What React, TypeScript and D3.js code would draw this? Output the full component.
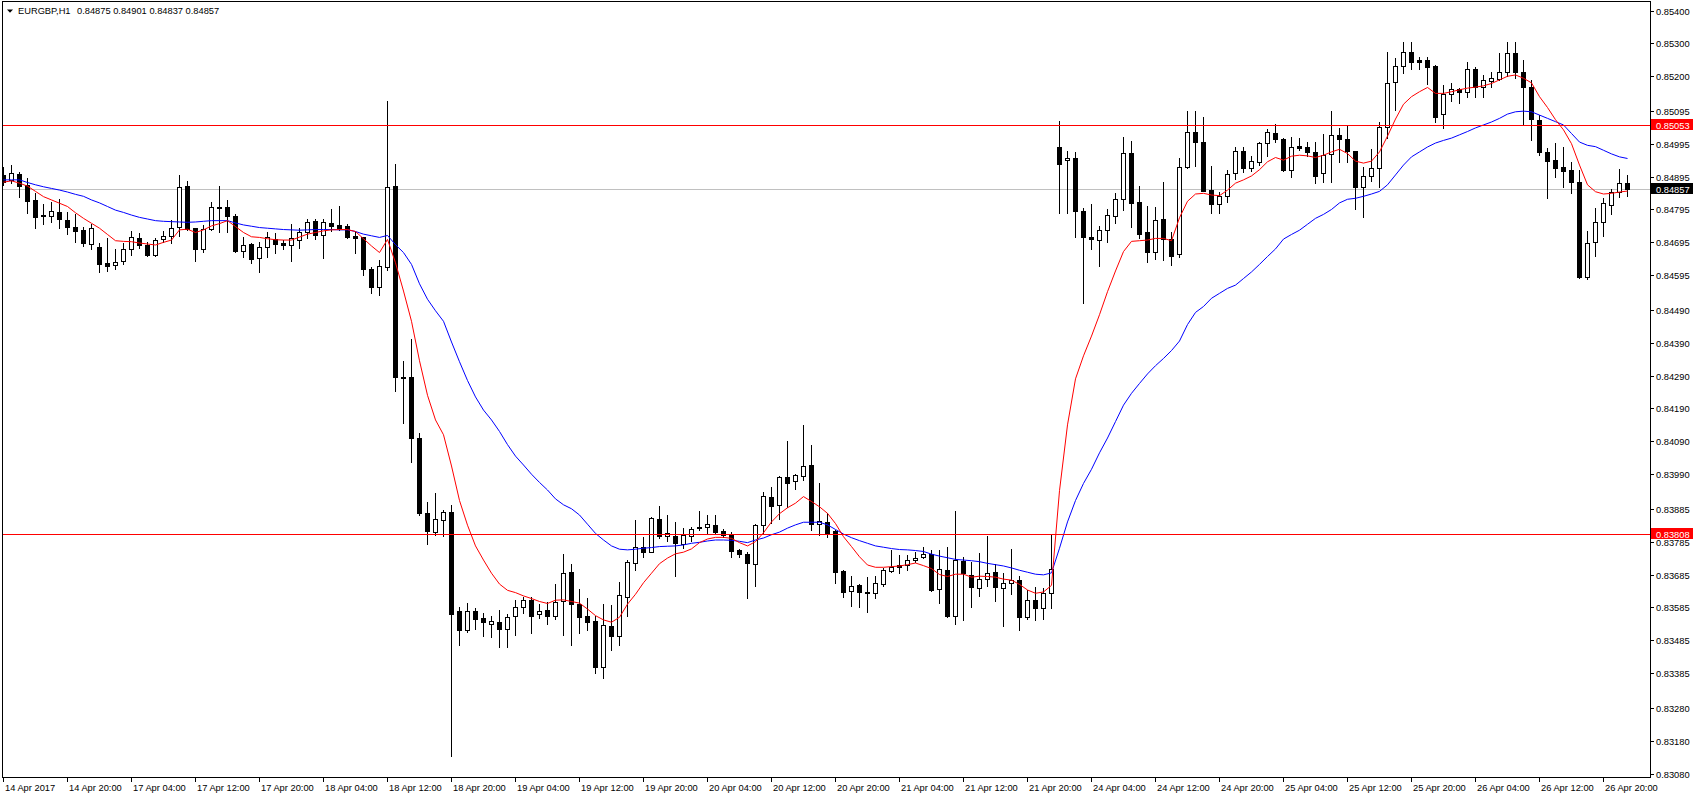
import React, { useEffect, useRef } from 'react'
import { select, scaleLinear, line } from 'd3'

// EURGBP H1, 14 Apr 2017 12:00 .. 26 Apr 2017 23:00 (one value per hourly bar)
const opens = [
  0.84900, 0.84886, 0.84903, 0.84869, 0.84824, 0.84778, 0.84774, 0.84788, 0.84763, 0.84741,
  0.84732, 0.84691, 0.84681, 0.84632, 0.84625, 0.84637, 0.84674, 0.84708, 0.84687, 0.84657,
  0.84704, 0.84713, 0.84741, 0.84866, 0.84738, 0.84674, 0.84735, 0.84804, 0.84801, 0.84775,
  0.84668, 0.84690, 0.84646, 0.84680, 0.84705, 0.84693, 0.84686, 0.84702, 0.84725, 0.84760,
  0.84716, 0.84753, 0.84747, 0.84745, 0.84714, 0.84710, 0.84613, 0.84560, 0.84621, 0.84865,
  0.84287, 0.84287, 0.84099, 0.83872, 0.83814, 0.83850, 0.83875, 0.83573, 0.83515, 0.83574,
  0.83552, 0.83535, 0.83540, 0.83518, 0.83558, 0.83585, 0.83608, 0.83564, 0.83576, 0.83560,
  0.83606, 0.83692, 0.83594, 0.83559, 0.83544, 0.83405, 0.83529, 0.83499, 0.83618, 0.83719,
  0.83768, 0.83755, 0.83854, 0.83803, 0.83802, 0.83779, 0.83802, 0.83830, 0.83831, 0.83835,
  0.83816, 0.83805, 0.83760, 0.83747, 0.83716, 0.83835, 0.83920, 0.83895, 0.83982, 0.83968,
  0.83985, 0.84018, 0.83838, 0.83844, 0.83818, 0.83696, 0.83636, 0.83653, 0.83632, 0.83628,
  0.83656, 0.83697, 0.83714, 0.83714, 0.83728, 0.83737, 0.83747, 0.83640, 0.83699, 0.83560,
  0.83726, 0.83683, 0.83643, 0.83670, 0.83692, 0.83643, 0.83658, 0.83668, 0.83555, 0.83608,
  0.83582, 0.83630, 0.84984, 0.84944, 0.84951, 0.84790, 0.84711, 0.84701, 0.84733, 0.84775,
  0.84826, 0.84967, 0.84817, 0.84726, 0.84667, 0.84766, 0.84704, 0.84659, 0.84923, 0.85030,
  0.84999, 0.84854, 0.84813, 0.84837, 0.84905, 0.84972, 0.84922, 0.84940, 0.84996, 0.85027,
  0.85008, 0.84915, 0.84987, 0.84986, 0.84971, 0.84905, 0.84964, 0.85020, 0.85008, 0.84973,
  0.84862, 0.84897, 0.84920, 0.85047, 0.85182, 0.85231, 0.85273, 0.85250, 0.85250, 0.85231,
  0.85084, 0.85145, 0.85160, 0.85152, 0.85221, 0.85168, 0.85187, 0.85192, 0.85214, 0.85270,
  0.85212, 0.85168, 0.85067, 0.84969, 0.84945, 0.84925, 0.84915, 0.84880, 0.84589, 0.84695,
  0.84758, 0.84809, 0.84847, 0.84875,
]

const highs = [
  0.84923, 0.84930, 0.84908, 0.84890, 0.84844, 0.84812, 0.84817, 0.84826, 0.84786, 0.84781,
  0.84741, 0.84750, 0.84692, 0.84708, 0.84674, 0.84692, 0.84729, 0.84722, 0.84697, 0.84709,
  0.84729, 0.84763, 0.84900, 0.84881, 0.84740, 0.84747, 0.84819, 0.84866, 0.84824, 0.84780,
  0.84712, 0.84694, 0.84696, 0.84727, 0.84722, 0.84702, 0.84751, 0.84738, 0.84765, 0.84765,
  0.84765, 0.84796, 0.84805, 0.84750, 0.84730, 0.84712, 0.84620, 0.84640, 0.85124, 0.84932,
  0.84334, 0.84401, 0.84114, 0.83906, 0.83933, 0.83882, 0.83896, 0.83585, 0.83597, 0.83582,
  0.83567, 0.83559, 0.83577, 0.83564, 0.83608, 0.83618, 0.83616, 0.83595, 0.83602, 0.83655,
  0.83747, 0.83717, 0.83641, 0.83615, 0.83559, 0.83595, 0.83592, 0.83662, 0.83729, 0.83851,
  0.83799, 0.83861, 0.83893, 0.83865, 0.83846, 0.83826, 0.83829, 0.83878, 0.83865, 0.83865,
  0.83823, 0.83814, 0.83763, 0.83755, 0.83839, 0.83935, 0.83950, 0.83986, 0.84091, 0.83990,
  0.84140, 0.84079, 0.83962, 0.83871, 0.83820, 0.83699, 0.83681, 0.83655, 0.83679, 0.83681,
  0.83704, 0.83760, 0.83744, 0.83744, 0.83755, 0.83768, 0.83760, 0.83760, 0.83768, 0.83879,
  0.83739, 0.83723, 0.83749, 0.83802, 0.83717, 0.83689, 0.83762, 0.83681, 0.83638, 0.83646,
  0.83643, 0.83805, 0.85064, 0.84973, 0.84969, 0.84799, 0.84812, 0.84745, 0.84797, 0.84844,
  0.85016, 0.85003, 0.84866, 0.84806, 0.84802, 0.84879, 0.84726, 0.84951, 0.85094, 0.85094,
  0.85077, 0.84927, 0.84847, 0.84915, 0.84986, 0.84986, 0.84959, 0.85001, 0.85040, 0.85054,
  0.85011, 0.85016, 0.85013, 0.85001, 0.84999, 0.85024, 0.85094, 0.85042, 0.85052, 0.84974,
  0.84925, 0.84979, 0.85060, 0.85273, 0.85255, 0.85303, 0.85303, 0.85258, 0.85258, 0.85234,
  0.85174, 0.85181, 0.85165, 0.85242, 0.85227, 0.85204, 0.85212, 0.85270, 0.85305, 0.85305,
  0.85250, 0.85189, 0.85082, 0.84981, 0.84996, 0.84986, 0.84940, 0.84915, 0.84730, 0.84799,
  0.84829, 0.84856, 0.84918, 0.84901,
]

const lows = [
  0.84869, 0.84876, 0.84834, 0.84785, 0.84739, 0.84750, 0.84758, 0.84739, 0.84719, 0.84696,
  0.84685, 0.84674, 0.84606, 0.84609, 0.84615, 0.84629, 0.84657, 0.84677, 0.84654, 0.84654,
  0.84697, 0.84692, 0.84714, 0.84732, 0.84639, 0.84667, 0.84732, 0.84727, 0.84727, 0.84666,
  0.84649, 0.84631, 0.84606, 0.84651, 0.84663, 0.84675, 0.84639, 0.84677, 0.84707, 0.84705,
  0.84646, 0.84730, 0.84734, 0.84709, 0.84663, 0.84596, 0.84540, 0.84535, 0.84612, 0.84242,
  0.84147, 0.84026, 0.83866, 0.83778, 0.83805, 0.83802, 0.83133, 0.83472, 0.83509, 0.83520,
  0.83499, 0.83496, 0.83466, 0.83466, 0.83501, 0.83567, 0.83508, 0.83554, 0.83535, 0.83550,
  0.83501, 0.83471, 0.83508, 0.83516, 0.83387, 0.83369, 0.83454, 0.83471, 0.83559, 0.83699,
  0.83739, 0.83752, 0.83795, 0.83788, 0.83682, 0.83765, 0.83788, 0.83820, 0.83812, 0.83808,
  0.83798, 0.83739, 0.83739, 0.83615, 0.83651, 0.83812, 0.83843, 0.83853, 0.83891, 0.83945,
  0.83972, 0.83820, 0.83805, 0.83800, 0.83660, 0.83618, 0.83590, 0.83587, 0.83572, 0.83613,
  0.83650, 0.83694, 0.83689, 0.83699, 0.83724, 0.83734, 0.83636, 0.83599, 0.83557, 0.83535,
  0.83547, 0.83587, 0.83620, 0.83650, 0.83606, 0.83529, 0.83626, 0.83516, 0.83549, 0.83547,
  0.83549, 0.83582, 0.84785, 0.84785, 0.84712, 0.84510, 0.84674, 0.84624, 0.84697, 0.84755,
  0.84793, 0.84743, 0.84707, 0.84636, 0.84644, 0.84641, 0.84626, 0.84652, 0.84920, 0.84928,
  0.84850, 0.84785, 0.84783, 0.84819, 0.84888, 0.84910, 0.84913, 0.84930, 0.84959, 0.85001,
  0.84912, 0.84895, 0.84976, 0.84959, 0.84875, 0.84880, 0.84880, 0.84940, 0.84940, 0.84796,
  0.84773, 0.84883, 0.84862, 0.85011, 0.85098, 0.85211, 0.85222, 0.85222, 0.85177, 0.85062,
  0.85044, 0.85125, 0.85118, 0.85138, 0.85138, 0.85138, 0.85166, 0.85189, 0.85202, 0.85194,
  0.85054, 0.85006, 0.84961, 0.84831, 0.84893, 0.84862, 0.84844, 0.84586, 0.84583, 0.84655,
  0.84715, 0.84780, 0.84832, 0.84837,
]

const closes = [
  0.84879, 0.84905, 0.84866, 0.84822, 0.84773, 0.84776, 0.84790, 0.84765, 0.84743, 0.84730,
  0.84694, 0.84738, 0.84630, 0.84624, 0.84634, 0.84675, 0.84710, 0.84688, 0.84656, 0.84702,
  0.84714, 0.84738, 0.84862, 0.84737, 0.84674, 0.84737, 0.84804, 0.84799, 0.84776, 0.84670,
  0.84687, 0.84645, 0.84680, 0.84712, 0.84691, 0.84686, 0.84707, 0.84727, 0.84757, 0.84717,
  0.84757, 0.84746, 0.84740, 0.84712, 0.84709, 0.84613, 0.84560, 0.84624, 0.84863, 0.84285,
  0.84283, 0.84099, 0.83872, 0.83817, 0.83854, 0.83875, 0.83566, 0.83515, 0.83573, 0.83551,
  0.83540, 0.83544, 0.83518, 0.83557, 0.83585, 0.83607, 0.83560, 0.83573, 0.83560, 0.83602,
  0.83689, 0.83594, 0.83557, 0.83542, 0.83405, 0.83531, 0.83499, 0.83622, 0.83722, 0.83768,
  0.83755, 0.83856, 0.83803, 0.83812, 0.83782, 0.83805, 0.83822, 0.83825, 0.83838, 0.83815,
  0.83805, 0.83758, 0.83746, 0.83719, 0.83835, 0.83923, 0.83894, 0.83982, 0.83964, 0.83987,
  0.84014, 0.83839, 0.83848, 0.83812, 0.83694, 0.83633, 0.83650, 0.83633, 0.83628, 0.83658,
  0.83699, 0.83709, 0.83709, 0.83729, 0.83736, 0.83747, 0.83638, 0.83701, 0.83560, 0.83729,
  0.83689, 0.83646, 0.83670, 0.83689, 0.83646, 0.83658, 0.83668, 0.83555, 0.83608, 0.83582,
  0.83628, 0.83702, 0.84932, 0.84951, 0.84790, 0.84710, 0.84704, 0.84733, 0.84778, 0.84826,
  0.84967, 0.84814, 0.84719, 0.84665, 0.84762, 0.84704, 0.84655, 0.84923, 0.85030, 0.84999,
  0.84852, 0.84813, 0.84836, 0.84902, 0.84972, 0.84922, 0.84941, 0.84996, 0.85030, 0.85008,
  0.84915, 0.84984, 0.84982, 0.84971, 0.84898, 0.84960, 0.85020, 0.85008, 0.84974, 0.84864,
  0.84897, 0.84920, 0.85047, 0.85179, 0.85231, 0.85275, 0.85244, 0.85244, 0.85229, 0.85077,
  0.85145, 0.85160, 0.85152, 0.85221, 0.85168, 0.85189, 0.85194, 0.85214, 0.85270, 0.85212,
  0.85168, 0.85069, 0.84971, 0.84943, 0.84920, 0.84913, 0.84880, 0.84591, 0.84692, 0.84756,
  0.84814, 0.84847, 0.84875, 0.84857,
]

// red (fast) and blue (slow) moving averages
const fastMa = [
  0.84878, 0.84882, 0.84875, 0.84866, 0.84850, 0.84834, 0.84824, 0.84814, 0.84804, 0.84785,
  0.84768, 0.84753, 0.84738, 0.84719, 0.84700, 0.84698, 0.84697, 0.84693, 0.84690, 0.84687,
  0.84695, 0.84702, 0.84733, 0.84735, 0.84725, 0.84733, 0.84745, 0.84752, 0.84761, 0.84743,
  0.84725, 0.84712, 0.84710, 0.84706, 0.84703, 0.84702, 0.84702, 0.84711, 0.84720, 0.84725,
  0.84730, 0.84733, 0.84734, 0.84734, 0.84728, 0.84706, 0.84684, 0.84664, 0.84704, 0.84633,
  0.84547, 0.84455, 0.84335, 0.84230, 0.84155, 0.84110, 0.84015, 0.83910, 0.83835, 0.83772,
  0.83729, 0.83689, 0.83656, 0.83637, 0.83630, 0.83620, 0.83612, 0.83603, 0.83597, 0.83607,
  0.83608, 0.83603, 0.83598, 0.83580, 0.83560, 0.83547, 0.83540, 0.83555, 0.83595, 0.83625,
  0.83660, 0.83689, 0.83718, 0.83735, 0.83748, 0.83753, 0.83763, 0.83782, 0.83793, 0.83798,
  0.83798, 0.83795, 0.83782, 0.83772, 0.83785, 0.83812, 0.83845, 0.83870, 0.83888, 0.83902,
  0.83922, 0.83907, 0.83891, 0.83871, 0.83840, 0.83800, 0.83770, 0.83739, 0.83714, 0.83707,
  0.83707, 0.83709, 0.83711, 0.83715, 0.83720, 0.83712, 0.83703, 0.83685, 0.83679, 0.83686,
  0.83686, 0.83677, 0.83680, 0.83679, 0.83677, 0.83671, 0.83668, 0.83655, 0.83638, 0.83628,
  0.83632, 0.83652, 0.83940, 0.84140, 0.84280, 0.84350, 0.84410, 0.84475, 0.84545, 0.84608,
  0.84667, 0.84698, 0.84700, 0.84702, 0.84707, 0.84707, 0.84700, 0.84770, 0.84820, 0.84842,
  0.84844, 0.84839, 0.84837, 0.84854, 0.84875, 0.84885, 0.84897, 0.84916, 0.84940, 0.84953,
  0.84945, 0.84957, 0.84960, 0.84958, 0.84953, 0.84960, 0.84970, 0.84978, 0.84965, 0.84942,
  0.84936, 0.84942, 0.84970, 0.85018, 0.85070, 0.85115, 0.85138, 0.85153, 0.85166, 0.85148,
  0.85148, 0.85153, 0.85159, 0.85164, 0.85167, 0.85171, 0.85178, 0.85189, 0.85200, 0.85204,
  0.85194, 0.85180, 0.85138, 0.85105, 0.85068, 0.85037, 0.84995, 0.84930, 0.84870, 0.84849,
  0.84842, 0.84844, 0.84848, 0.84851,
]

const slowMa = [
  0.84885, 0.84885, 0.84885, 0.84877, 0.84870, 0.84864, 0.84859, 0.84854, 0.84848, 0.84841,
  0.84835, 0.84824, 0.84815, 0.84804, 0.84793, 0.84786, 0.84778, 0.84771, 0.84766, 0.84761,
  0.84759, 0.84758, 0.84757, 0.84756, 0.84757, 0.84759, 0.84761, 0.84761, 0.84761, 0.84754,
  0.84748, 0.84744, 0.84740, 0.84738, 0.84736, 0.84734, 0.84733, 0.84732, 0.84733, 0.84734,
  0.84734, 0.84734, 0.84733, 0.84733, 0.84728, 0.84720, 0.84715, 0.84710, 0.84716, 0.84688,
  0.84664, 0.84628, 0.84569, 0.84522, 0.84487, 0.84455, 0.84392, 0.84332, 0.84275, 0.84225,
  0.84185, 0.84155, 0.84120, 0.84080, 0.84045, 0.84018, 0.83990, 0.83965, 0.83942, 0.83915,
  0.83897, 0.83885, 0.83866, 0.83838, 0.83810, 0.83790, 0.83772, 0.83762, 0.83760, 0.83762,
  0.83765, 0.83767, 0.83770, 0.83771, 0.83772, 0.83775, 0.83780, 0.83783, 0.83787, 0.83790,
  0.83790, 0.83789, 0.83786, 0.83782, 0.83790, 0.83796, 0.83806, 0.83814, 0.83826, 0.83836,
  0.83844, 0.83844, 0.83844, 0.83836, 0.83822, 0.83808, 0.83797, 0.83788, 0.83780, 0.83772,
  0.83768, 0.83764, 0.83761, 0.83760, 0.83758, 0.83755, 0.83747, 0.83741, 0.83736, 0.83731,
  0.83729, 0.83727, 0.83724, 0.83719, 0.83715, 0.83711, 0.83705, 0.83698, 0.83692, 0.83686,
  0.83684, 0.83690, 0.83765, 0.83845, 0.83910, 0.83962, 0.84005, 0.84055, 0.84100, 0.84150,
  0.84200, 0.84236, 0.84266, 0.84295, 0.84320, 0.84342, 0.84366, 0.84395, 0.84445, 0.84482,
  0.84500, 0.84525, 0.84540, 0.84555, 0.84565, 0.84585, 0.84605, 0.84628, 0.84652, 0.84675,
  0.84705, 0.84719, 0.84732, 0.84750, 0.84768, 0.84780, 0.84795, 0.84815, 0.84826, 0.84829,
  0.84835, 0.84842, 0.84850, 0.84870, 0.84900, 0.84930, 0.84955, 0.84970, 0.84985, 0.84997,
  0.85005, 0.85012, 0.85022, 0.85032, 0.85043, 0.85052, 0.85061, 0.85072, 0.85085, 0.85092,
  0.85094, 0.85092, 0.85082, 0.85072, 0.85062, 0.85052, 0.85026, 0.85000, 0.84990, 0.84986,
  0.84975, 0.84964, 0.84955, 0.84950,
]

// one time label every 8 bars
const timeLabels = [
  '14 Apr 2017', '14 Apr 20:00', '17 Apr 04:00', '17 Apr 12:00', '17 Apr 20:00',
  '18 Apr 04:00', '18 Apr 12:00', '18 Apr 20:00', '19 Apr 04:00', '19 Apr 12:00',
  '19 Apr 20:00', '20 Apr 04:00', '20 Apr 12:00', '20 Apr 20:00', '21 Apr 04:00',
  '21 Apr 12:00', '21 Apr 20:00', '24 Apr 04:00', '24 Apr 12:00', '24 Apr 20:00',
  '25 Apr 04:00', '25 Apr 12:00', '25 Apr 20:00', '26 Apr 04:00', '26 Apr 12:00',
  '26 Apr 20:00',
]

const priceTicks = [
  0.85400, 0.85300, 0.85200, 0.85095, 0.84995, 0.84895, 0.84795, 0.84695, 0.84595, 0.84490,
  0.84390, 0.84290, 0.84190, 0.84090, 0.83990, 0.83885, 0.83785, 0.83685, 0.83585, 0.83485,
  0.83385, 0.83280, 0.83180, 0.83080,
]

const symbolName = 'EURGBP,H1'
const bidPrice = 0.84857
const levelPrices = [0.85053, 0.83808]

const W = 1693
const H = 798
const plotRight = 1650
const plotBottom = 777
const FONT = "Tahoma, 'Liberation Sans', Arial, sans-serif"
const FONT_SIZE = 9.3

const drawChart = (el: SVGSVGElement) => {
  const svg = select(el)
  svg.selectAll('*').remove()

  const n = opens.length
  const x = scaleLinear().domain([0, n - 1]).range([3, 3 + 8 * (n - 1)])
  const y = scaleLinear().domain([0.8308, 0.854]).range([773.5, 10.5])
  const py = (v: number) => Math.round(y(v)) + 0.5

  svg.append('rect').attr('width', W).attr('height', H).attr('fill', '#ffffff')

  svg.append('defs').append('clipPath').attr('id', 'plot-clip')
    .append('rect').attr('x', 3).attr('y', 2)
    .attr('width', plotRight - 3).attr('height', plotBottom - 2)

  const plot = svg.append('g').attr('clip-path', 'url(#plot-clip)')

  // bid line (behind the candles)
  plot.append('line')
    .attr('x1', 3).attr('x2', plotRight)
    .attr('y1', py(bidPrice)).attr('y2', py(bidPrice))
    .attr('stroke', '#c0c0c0').attr('shape-rendering', 'crispEdges')

  const bars = opens.map((o, i) => ({ i, o, h: highs[i], l: lows[i], c: closes[i] }))

  const candles = plot.append('g').attr('shape-rendering', 'crispEdges')
  candles.selectAll('line')
    .data(bars)
    .join('line')
    .attr('x1', d => x(d.i) + 0.5).attr('x2', d => x(d.i) + 0.5)
    .attr('y1', d => Math.round(y(d.h))).attr('y2', d => Math.round(y(d.l)) + 1)
    .attr('stroke', '#000')

  candles.selectAll('path')
    .data(bars)
    .join('path')
    .attr('d', d => {
      const x0 = x(d.i) - 1.5
      const x1 = x(d.i) + 2.5
      const y0 = py(Math.max(d.o, d.c))
      const y1 = py(Math.min(d.o, d.c))
      return `M${x0},${y0}H${x1}V${y1}H${x0}Z`
    })
    .attr('fill', d => (d.c >= d.o ? '#ffffff' : '#000000'))
    .attr('stroke', '#000')

  // moving averages
  const maLine = line<number>().x((_, i) => x(i) + 0.5).y(v => y(v))
  plot.append('path').attr('d', maLine(slowMa)).attr('fill', 'none').attr('stroke', '#0000ff')
  plot.append('path').attr('d', maLine(fastMa)).attr('fill', 'none').attr('stroke', '#ff0000')

  // horizontal levels
  plot.selectAll('line.level')
    .data(levelPrices)
    .join('line')
    .attr('class', 'level')
    .attr('x1', 3).attr('x2', plotRight)
    .attr('y1', d => py(d)).attr('y2', d => py(d))
    .attr('stroke', '#ff0000').attr('shape-rendering', 'crispEdges')

  // frame
  svg.append('rect')
    .attr('x', 2.5).attr('y', 1.5)
    .attr('width', plotRight - 2).attr('height', plotBottom - 1)
    .attr('fill', 'none').attr('stroke', '#000').attr('shape-rendering', 'crispEdges')

  // price axis
  const yAxis = svg.append('g').attr('font-family', FONT).attr('font-size', FONT_SIZE)
  yAxis.selectAll('line')
    .data(priceTicks)
    .join('line')
    .attr('x1', plotRight + 1).attr('x2', plotRight + 4)
    .attr('y1', d => py(d)).attr('y2', d => py(d))
    .attr('stroke', '#000').attr('shape-rendering', 'crispEdges')
  yAxis.selectAll('text')
    .data(priceTicks)
    .join('text')
    .attr('x', plotRight + 6)
    .attr('y', d => Math.round(y(d)) + 4)
    .attr('fill', '#000')
    .text(d => d.toFixed(5))

  // price tags on the right
  const tags = [
    { v: levelPrices[0], bg: '#ff0000' },
    { v: bidPrice, bg: '#000000' },
    { v: levelPrices[1], bg: '#ff0000' },
  ]
  const tagG = svg.append('g').attr('font-family', FONT).attr('font-size', FONT_SIZE)
  tagG.selectAll('rect')
    .data(tags)
    .join('rect')
    .attr('x', plotRight + 1).attr('width', W - plotRight - 1)
    .attr('y', d => Math.round(y(d.v)) - 6).attr('height', 11)
    .attr('fill', d => d.bg)
  tagG.selectAll('text')
    .data(tags)
    .join('text')
    .attr('x', plotRight + 6)
    .attr('y', d => Math.round(y(d.v)) + 4)
    .attr('fill', '#fff')
    .text(d => d.v.toFixed(5))

  // time axis
  const xAxis = svg.append('g').attr('font-family', FONT).attr('font-size', FONT_SIZE)
  xAxis.selectAll('line')
    .data(timeLabels)
    .join('line')
    .attr('x1', (_, k) => x(k * 8) + 0.5).attr('x2', (_, k) => x(k * 8) + 0.5)
    .attr('y1', plotBottom + 1).attr('y2', plotBottom + 5)
    .attr('stroke', '#000').attr('shape-rendering', 'crispEdges')
  xAxis.selectAll('text')
    .data(timeLabels)
    .join('text')
    .attr('x', (_, k) => x(k * 8) + 2)
    .attr('y', plotBottom + 14)
    .attr('fill', '#000')
    .text(d => d)

  // header
  const head = svg.append('g').attr('font-family', FONT).attr('font-size', FONT_SIZE).attr('fill', '#000')
  head.append('path').attr('d', 'M7,9.5H13L10,12.8Z')
  head.append('text').attr('x', 18).attr('y', 14).text(symbolName)
  head.append('text').attr('x', 77).attr('y', 14)
    .text([opens[n - 1], highs[n - 1], lows[n - 1], closes[n - 1]].map(v => v.toFixed(5)).join(' '))
}

export default function App() {
  const svgRef = useRef<SVGSVGElement>(null)

  useEffect(() => {
    if (svgRef.current === null) {
      return
    }
    drawChart(svgRef.current)
  }, [])

  return (
    <svg
      ref={svgRef}
      width={W}
      height={H}
      style={{ position: 'absolute', left: 0, top: 0, display: 'block' }}
    />
  )
}
